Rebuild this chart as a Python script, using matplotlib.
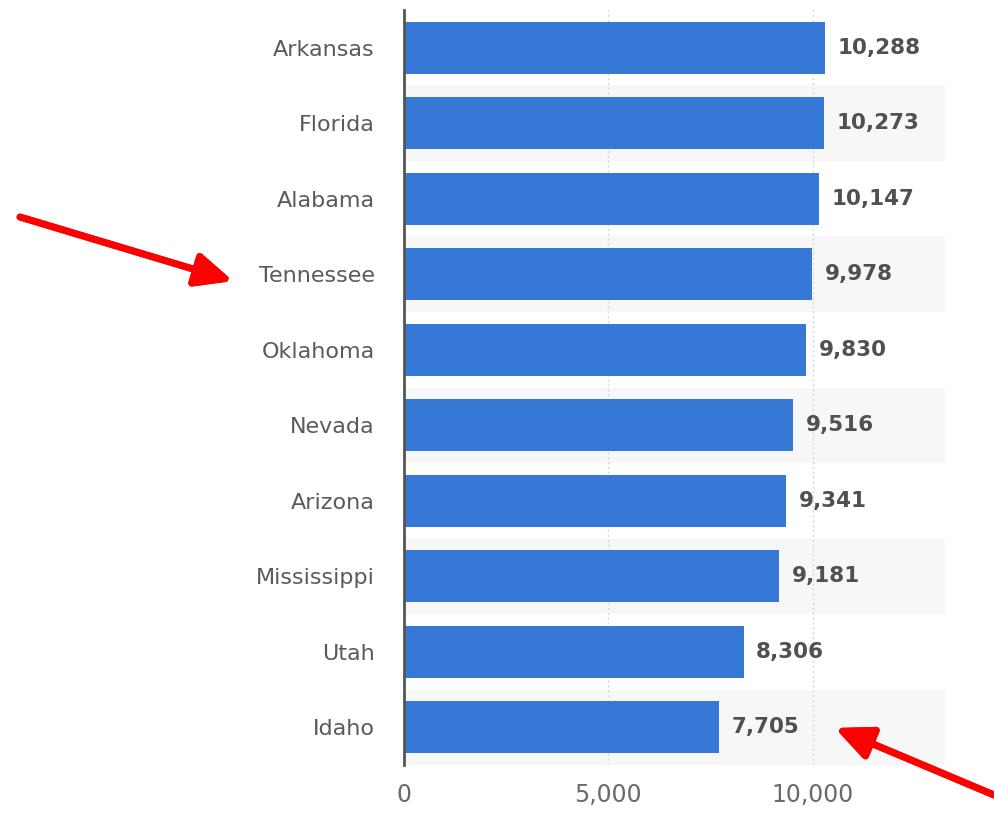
import matplotlib.pyplot as plt

states = ['Arkansas', 'Florida', 'Alabama', 'Tennessee', 'Oklahoma',
          'Nevada', 'Arizona', 'Mississippi', 'Utah', 'Idaho']
values = [10288, 10273, 10147, 9978, 9830, 9516, 9341, 9181, 8306, 7705]
xticks = [0, 5000, 10000]

fig = plt.figure(figsize=(9.94, 8.17), dpi=100)
ax = fig.add_axes([0.4064, 0.0636, 0.5443, 0.9242])

n = len(states)
pos = list(range(n))[::-1]  # first state at top

# alternating light row bands
for i, p in enumerate(pos):
    if i % 2 == 1:
        ax.axhspan(p - 0.5, p + 0.5, color='#f7f7f7', zorder=0, lw=0)

ax.barh(pos, values, height=0.69, color='#3578d6', zorder=3)

for p, v in zip(pos, values):
    ax.annotate(f'{v:,}', (v, p), xytext=(9, 0), textcoords='offset points',
                va='center', ha='left', fontsize=15.5, fontweight='bold',
                color='#505050', zorder=4)

ax.set_xlim(0, 13230)
ax.set_ylim(-0.5, n - 0.5)
ax.set_yticks(pos)
ax.set_yticklabels(states, fontsize=16, color='#5a5a5a')
ax.set_xticks(xticks)
ax.set_xticklabels([f'{t:,}' for t in xticks], fontsize=17, color='#6a6a6a')
ax.tick_params(axis='y', length=0, pad=21)
ax.tick_params(axis='x', length=0, pad=13)

for x in xticks[1:]:
    ax.axvline(x, color='#d6d6d6', lw=1, ls=(0, (1.5, 2)), zorder=1)

for s in ['top', 'right', 'bottom']:
    ax.spines[s].set_visible(False)
ax.spines['left'].set_color('#555555')
ax.spines['left'].set_linewidth(2)
ax.spines['left'].set_zorder(5)

# red arrows
W, H = 994, 817
arrow = dict(arrowstyle='-|>,head_length=2.2,head_width=1.0', color='#ff0000',
             lw=5, shrinkA=0, shrinkB=0)
fig.add_artist(plt.annotate('', xy=(233 / W, 1 - 281 / H), xytext=(20 / W, 1 - 217 / H),
                            xycoords='figure fraction', textcoords='figure fraction',
                            arrowprops=arrow))
fig.add_artist(plt.annotate('', xy=(835 / W, 1 - 728 / H), xytext=(994 / W, 1 - 795 / H),
                            xycoords='figure fraction', textcoords='figure fraction',
                            arrowprops=arrow))

fig.savefig('out.png', dpi=100)
